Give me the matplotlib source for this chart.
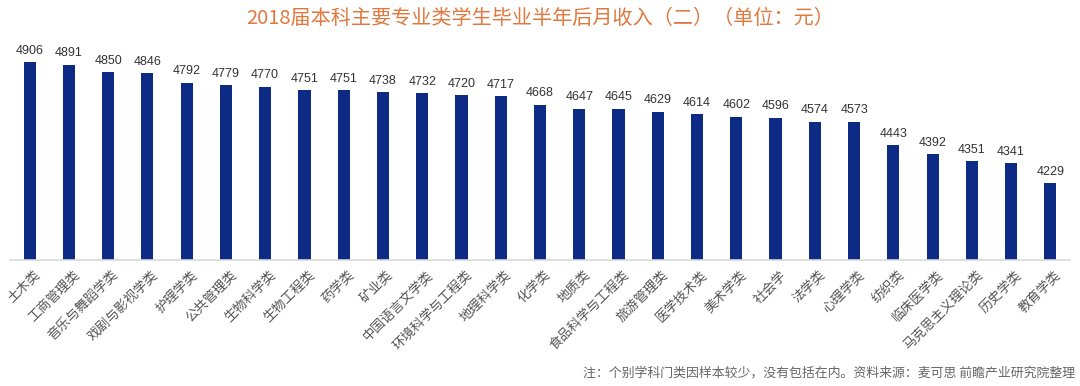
import matplotlib.pyplot as plt

plt.rcParams['font.family'] = ['Noto Sans CJK SC', 'DejaVu Sans']

majors = ["土木类", "工商管理类", "音乐与舞蹈学类", "戏剧与影视学类", "护理学类", "公共管理类",
          "生物科学类", "生物工程类", "药学类", "矿业类", "中国语言文学类", "环境科学与工程类",
          "地理科学类", "化学类", "地质类", "食品科学与工程类", "旅游管理类", "医学技术类",
          "美术学类", "社会学", "法学类", "心理学类", "纺织类", "临床医学类",
          "马克思主义理论类", "历史学类", "教育学类"]
income = [4906, 4891, 4850, 4846, 4792, 4779, 4770, 4751, 4751, 4738, 4732, 4720, 4717,
          4668, 4647, 4645, 4629, 4614, 4602, 4596, 4574, 4573, 4443, 4392, 4351, 4341, 4229]

title = "2018届本科主要专业类学生毕业半年后月收入（二）（单位：元）"
note = "注：个别学科门类因样本较少，没有包括在内。资料来源：麦可思 前瞻产业研究院整理"

W, H = 1080, 386
fig = plt.figure(figsize=(W / 100, H / 100), dpi=100)
# axes from x=10..1070 px, y=40..260 px (top-down)
ax = fig.add_axes([10 / W, 1 - 260 / H, 1060 / W, 220 / H])

x = range(len(majors))
ax.bar(x, income, width=0.31, color='#0D2B85')
for i, v in zip(x, income):
    ax.text(i, v + 30, str(v), ha='center', va='bottom', fontsize=9,
            color='#333333', family=['Liberation Sans'])

ax.set_xlim(-0.5, len(majors) - 0.5)
ax.set_ylim(3800, 5030)
ax.set_yticks([])
ax.set_xticks([i + 0.1 for i in x])
ax.set_xticklabels(majors, rotation=45, ha='right', rotation_mode='anchor',
                   fontsize=9.5, color='#555555')
ax.tick_params(axis='x', length=0, pad=6)
for s in ['top', 'right', 'left']:
    ax.spines[s].set_visible(False)
ax.spines['bottom'].set_color('#d9d9d9')
ax.spines['bottom'].set_linewidth(1.2)

fig.text(0.5, 1 - 18 / H, title, ha='center', va='center', fontsize=14.5,
         color='#E0793F', family=['Noto Sans CJK SC', 'DejaVu Sans'], weight='light')
fig.text(1075 / W, 1 - 373 / H, note, ha='right', va='center', fontsize=9.3, color='#666666')

fig.savefig('out.png', dpi=100)
